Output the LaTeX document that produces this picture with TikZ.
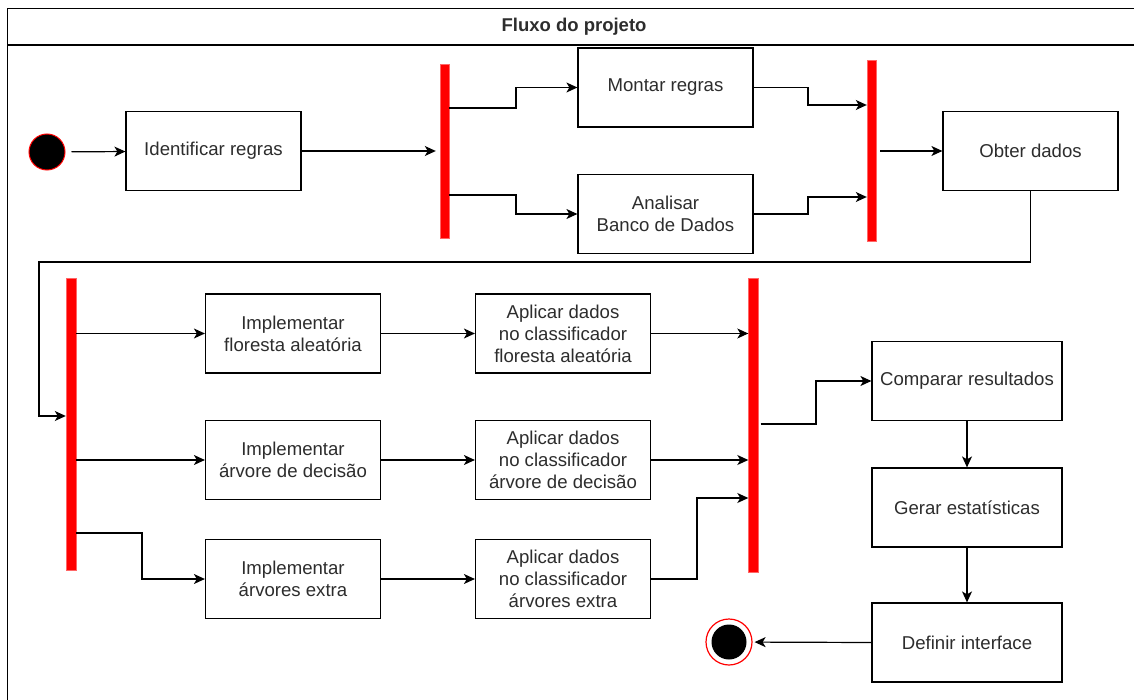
\documentclass[tikz,border=0pt]{standalone}
\usepackage{fontspec}
\setmainfont{Liberation Sans}
\usetikzlibrary{arrows.meta}
\definecolor{txt}{RGB}{45,45,45}
\tikzset{
  box/.style={draw=black, line width=1.2pt, fill=white, minimum width=175pt, minimum height=79pt, align=center, inner sep=0pt, text=txt, font=\fontsize{18.6}{22}\selectfont},
  wbox/.style={box, minimum width=190pt},
  bar/.style={fill=red, draw=red!60!white, line width=0.4pt, inner sep=0pt, minimum width=9pt},
  conn/.style={draw=black, line width=1.2pt, -{Stealth[length=11pt,width=10pt,inset=3pt]}},
}
\begin{document}
\begin{tikzpicture}[x=1pt,y=-1pt]
\useasboundingbox (0,0) rectangle (1134,700);
\begin{scope}
\clip (0,0) rectangle (1134,700);
\draw[line width=1.6pt] (7.5,8.5) rectangle (1145,712);
\draw[line width=1.6pt] (7.5,45) -- (1145,45);
\end{scope}
\node[font=\bfseries\fontsize{18.5}{22}\selectfont, text=txt] (title) at (574,27) {Fluxo do projeto};

% nodes
\node[circle, fill=black, draw=red, line width=1pt, minimum size=36pt, inner sep=0pt] (start) at (47,152) {};
\node[box] (ident) at (213.5,151) {Identificar regras};
\node[bar, minimum height=174pt] (f1) at (444.5,151) {};
\node[box] (montar) at (665.5,87.5) {Montar regras};
\node[box] (anal) at (665.5,214) {Analisar\\Banco de Dados};
\node[bar, minimum height=181pt] (f2) at (871.5,151) {};
\node[box] (obter) at (1030.5,151) {Obter dados};
\node[bar, minimum width=10pt, minimum height=292pt] (f3) at (71,424) {};
\node[box] (impl1) at (293,333.5) {Implementar\\floresta aleatória};
\node[box] (apl1) at (563,333.5) {Aplicar dados\\no classificador\\floresta aleatória};
\node[box] (impl2) at (293,460) {Implementar\\árvore de decisão};
\node[box] (apl2) at (563,460) {Aplicar dados\\no classificador\\árvore de decisão};
\node[box] (impl3) at (293,579) {Implementar\\árvores extra};
\node[box] (apl3) at (563,579) {Aplicar dados\\no classificador\\árvores extra};
\node[bar, minimum width=10pt, minimum height=294pt] (f4) at (753.5,425) {};
\node[wbox] (comp) at (967,381) {Comparar resultados};
\node[wbox] (gerar) at (967,507.5) {Gerar estatísticas};
\node[wbox] (defi) at (967,642.5) {Definir interface};
\node[circle, draw=red, fill=white, line width=1.2pt, minimum size=46pt, inner sep=0pt] (endo) at (729,642) {};
\node[circle, fill=black, minimum size=35pt, inner sep=0pt] (endi) at (729,642) {};

% connectors
\draw[conn, shorten <=6pt] (start) -- (ident);
\draw[conn, shorten >=4pt] (ident.east) -- (f1.west |- ident.east);
\draw[conn] (f1.east |- 0,108) -- (516,108) |- (montar.west);
\draw[conn] (f1.east |- 0,195) -- (516,195) |- (anal.west);
\draw[conn] (montar.east) -- (808,87.5) |- (f2.west |- 0,105);
\draw[conn] (anal.east) -- (808,214) |- (f2.west |- 0,197);
\draw[conn, shorten <=4pt] (f2.east |- obter.west) -- (obter.west);
\draw[conn] (obter.south) |- (39,262) |- (f3.west |- 0,416);
\draw[conn] (f3.east |- impl1.west) -- (impl1.west);
\draw[conn] (f3.east |- impl2.west) -- (impl2.west);
\draw[conn] (f3.east |- 0,533) -- (142,533) |- (impl3.west);
\draw[conn] (impl1) -- (apl1);
\draw[conn] (impl2) -- (apl2);
\draw[conn] (impl3) -- (apl3);
\draw[conn] (apl1.east) -- (f4.west |- apl1.east);
\draw[conn] (apl2.east) -- (f4.west |- apl2.east);
\draw[conn] (apl3.east) -- (697,579) |- (f4.west |- 0,498);
\draw[conn, shorten <=2pt] (f4.east |- 0,424) -- (816,424) |- (comp.west);
\draw[conn] (comp) -- (gerar);
\draw[conn] (gerar) -- (defi);
\draw[conn, shorten >=2pt] (defi.west) -- (endo);
\end{tikzpicture}
\end{document}
